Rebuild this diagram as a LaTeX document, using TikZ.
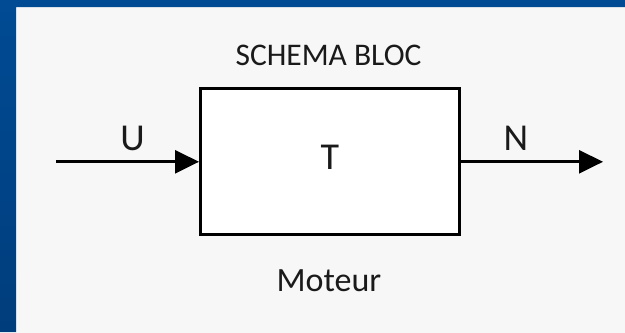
\documentclass[tikz,border=0pt]{standalone}
\usepackage{fontspec}
\setmainfont{Carlito}
\usetikzlibrary{arrows.meta}
\definecolor{bluetop}{HTML}{004B94}
\definecolor{bluebot}{HTML}{003D7C}
\definecolor{panel}{HTML}{F7F7F7}
\definecolor{ink}{HTML}{1A1A1A}
\begin{document}
\begin{tikzpicture}[x=1bp,y=-1bp,
  lbl/.style={inner sep=0pt, anchor=base, text=ink},
  flow/.style={line width=3bp, draw=black, -{Triangle[length=24bp,width=23bp]}},
  blockbox/.style={draw=black, line width=3bp, fill=white, inner sep=0pt,
                   minimum width=259bp, minimum height=146bp}]
\useasboundingbox (0,0) rectangle (625,332);
% content panel, then the blue slide frame along the top and left
\fill[panel] (16,7) rectangle (640,345);
\shade[top color=bluetop, bottom color=bluebot]
  (0,0) -- (625,0) -- (625,7) -- (16,7) -- (16,332) -- (0,332) -- cycle;
% block
\node[blockbox] (blk) at (330,161.8) {};
\node[lbl, font=\fontsize{38bp}{44bp}\selectfont] (tf) at (330,169) {T};
% titles
\node[lbl, font=\fontsize{31.5bp}{38bp}\selectfont] (title) at (328.5,65) {SCHEMA BLOC};
\node[lbl, font=\fontsize{34bp}{40bp}\selectfont] (name) at (329,291.7) {Moteur};
% input and output signals
\coordinate (in) at (56,161.8);
\coordinate (out) at (603,161.8);
\draw[flow] (in) -- (blk.west);
\draw[flow] (blk.east) -- (out);
\node[lbl, font=\fontsize{38bp}{44bp}\selectfont] (u) at (132.5,150.7) {U};
\node[lbl, font=\fontsize{38bp}{44bp}\selectfont] (n) at (516,150.7) {N};
\end{tikzpicture}
\end{document}
